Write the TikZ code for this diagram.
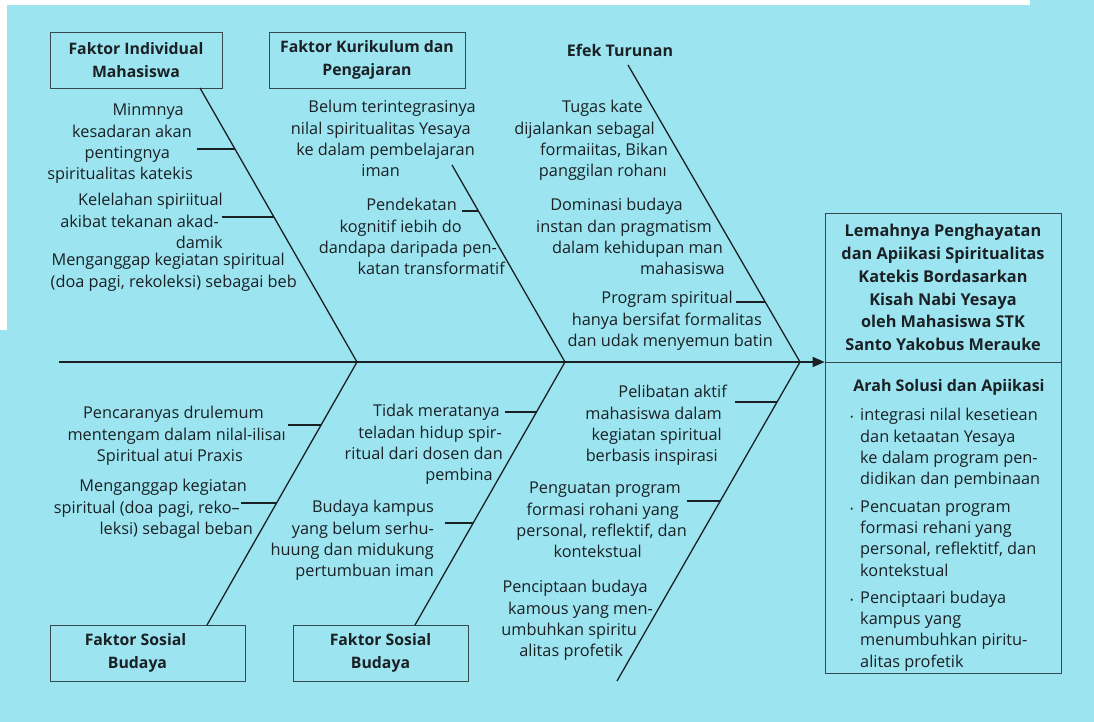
\documentclass[tikz,border=0pt]{standalone}
\usepackage{fontspec}
\setmainfont{Open Sans}
\usetikzlibrary{arrows.meta}
\definecolor{bg}{RGB}{156,229,240}
\definecolor{ink}{RGB}{26,32,36}
\definecolor{boxln}{RGB}{55,72,78}
\begin{document}
\begin{tikzpicture}[x=1pt,y=-1pt,
  body/.style={font=\fontsize{16.3}{21.3}\selectfont, text=ink, inner sep=0pt, align=right, anchor=north east, yshift=-1.8pt},
  lbody/.style={body, align=left, anchor=north west},
  head/.style={font=\fontsize{16}{23}\selectfont\bfseries, text=ink, inner sep=0pt, align=center},
  catbox/.style={draw=boxln, line width=0.8pt, minimum height=56pt, inner sep=0pt, font=\fontsize{15.8}{23}\selectfont\bfseries, text=ink, align=center},
  bone/.style={draw=ink, line width=1.3pt},
  tick/.style={draw=ink, line width=1.1pt},
  spine/.style={draw=ink, line width=1.6pt}]
\useasboundingbox (0,0) rectangle (1094,722);
\fill[bg] (0,0) rectangle (1094,722);
\fill[white] (0,0) rectangle (1030,5);
\fill[white] (0,0) rectangle (7,330);

% category boxes
\node[catbox, minimum width=172pt] (ind) at (136,60) {Faktor Individual\\Mahasiswa};
\node[catbox, minimum width=196pt] (kur) at (367,60) {Faktor Kurikulum dan\\Pengajaran};
\node[head] (efek) at (620,50) {Efek Turunan};
\node[catbox, minimum width=195pt] (sos1) at (147.5,653) {Faktor Sosial\rule{24pt}{0pt}\\Budaya\rule{20pt}{0pt}};
\node[catbox, minimum width=175pt] (sos2) at (380.5,653) {Faktor Sosial\\Budaya};

% effect boxes
\node[draw=boxln, line width=0.8pt, minimum width=236pt, minimum height=149pt, inner sep=0pt,
  font=\fontsize{16.3}{22.8}\selectfont\bfseries, text=ink, align=center] (eff) at (943,287.5)
  {Lemahnya Penghayatan\\dan Apiikasi Spiritualitas\\Katekis Bordasarkan\\Kisah Nabi Yesaya\\oleh Mahasiswa STK\\Santo Yakobus Merauke};
\node[draw=boxln, line width=0.8pt, minimum width=236pt, minimum height=311pt, inner sep=0pt] (sol) at (943,517.5) {};
\node[head] (soltitle) at (949,387) {Arah Solusi dan Apiikasi};
\node[lbody] (sollist) at (850,404) {\strut\makebox[10pt][l]{\fontsize{9}{9}\selectfont •}integrasi nilal kesetiean\\
\hspace*{10pt}dan ketaatan Yesaya\\
\hspace*{10pt}ke dalam program pen-\\
\hspace*{10pt}didikan dan pembinaan\\[6pt]
\makebox[10pt][l]{\fontsize{9}{9}\selectfont •}Pencuatan program\\
\hspace*{10pt}formasi rehani yang\\
\hspace*{10pt}personal, reflektitf, dan\\
\hspace*{10pt}kontekstual\\[6pt]
\makebox[10pt][l]{\fontsize{9}{9}\selectfont •}Penciptaari budaya\\
\hspace*{10pt}kampus yang\\
\hspace*{10pt}menumbuhkan piritu-\\
\hspace*{10pt}alitas profetik};

% spine and junctions
\coordinate (tail) at (59,362);
\coordinate (j1) at (357,362);
\coordinate (j2) at (565,362);
\coordinate (j3) at (800,362);
\draw[spine, -{Triangle[length=12pt,width=10pt]}] (tail) -- (eff.west |- tail);

% bone start/end points
\coordinate (u1) at (200,88);
\coordinate (u2) at (452,165);
\coordinate (u3) at (628,65);
\coordinate (l1) at (207,625);
\coordinate (l2) at (415,625);
\coordinate (l3) at (617,681);
\draw[bone] (u1) -- (j1);
\draw[bone] (u2) -- (j2);
\draw[bone] (u3) -- (j3);
\draw[bone] (j1) -- (l1);
\draw[bone] (j2) -- (l2);
\draw[bone] (j3) -- (l3);

% cause texts
\node[body] (b1) at (193,99) {\strut Minmnya\rule{9pt}{0pt}\\kesadaran akan\rule{1pt}{0pt}\\pentingnya\rule{23pt}{0pt}\\spiritualitas katekis};
\node[body] (b2) at (223,189) {\strut Kelelahan spiriitual\\akibat tekanan akad-\rule{4pt}{0pt}\\damik};
\node[body] (b3) at (297,249) {\strut Menganggap kegiatan spiritual\rule{12pt}{0pt}\\(doa pagi, rekoleksi) sebagai beb};
\node[body] (b4) at (476,96) {\strut Belum terintegrasinya\\nilal spiritualitas Yesaya\rule{5pt}{0pt}\\ke dalam pembelajaran\rule{1pt}{0pt}\\iman\rule{76pt}{0pt}};
\node[body] (b5) at (505,194) {\strut Pendekatan\rule{48pt}{0pt}\\kognitif iebih do\rule{43pt}{0pt}\\dandapa daripada pen-\rule{8pt}{0pt}\\katan transformatif};
\node[body] (b6) at (668,96) {\strut Tugas kate\rule{25pt}{0pt}\\dijalankan sebagal\rule{13pt}{0pt}\\formaiitas, Bikan\\panggilan rohanı\rule{1pt}{0pt}};
\node[body] (b7) at (725,194) {\strut Dominasi budaya\rule{42pt}{0pt}\\instan dan pragmatism\rule{13pt}{0pt}\\dalam kehidupan man\rule{2pt}{0pt}\\mahasiswa};
\node[body] (b8) at (773,287) {\strut Program spiritual\rule{40pt}{0pt}\\hanya bersifat formalitas\rule{11pt}{0pt}\\dan udak menyemun batin};
\node[body] (b9) at (286,402) {\strut Pencaranyas drulemum\rule{22pt}{0pt}\\mentengam dalam nilal-ilisaı\\Spiritual atui Praxis\rule{43pt}{0pt}};
\node[body] (b10) at (253,475) {\strut Menganggap kegiatan\rule{6pt}{0pt}\\spiritual (doa pagi, reko–\rule{13pt}{0pt}\\leksi) sebagal beban};
\node[body] (b11) at (503,400) {\strut Tidak meratanya\rule{3pt}{0pt}\\teladan hidup spir-\rule{1pt}{0pt}\\ritual dari dosen dan\\pembina\rule{10pt}{0pt}};
\node[body] (b12) at (434,496) {\strut Budaya kampus\\yang belum serhu-\\huung dan midukung\\pertumbuan iman};
\node[body] (b13) at (727,381) {\strut Pelibatan aktif\\mahasiswa dalam\rule{5pt}{0pt}\\kegiatan spiritual\rule{5pt}{0pt}\\berbasis inspirasi\rule{9pt}{0pt}};
\node[body] (b14) at (687,477) {\strut Penguatan program\rule{6pt}{0pt}\\formasi rohani yang\rule{8pt}{0pt}\\personal, reflektif, dan\\kontekstual\rule{45pt}{0pt}};
\node[body] (b15) at (653,576) {\strut Penciptaan budaya\rule{5pt}{0pt}\\kamous yang men-\\umbuhkan spiritu\rule{16pt}{0pt}\\alitas profetik\rule{30pt}{0pt}};

% ticks
\coordinate (t1a) at (197,149); \coordinate (t1b) at (235,149);
\coordinate (t2a) at (222,217); \coordinate (t2b) at (274,217);
\coordinate (t5a) at (462,211); \coordinate (t5b) at (478.4,211);
\coordinate (t8a) at (736,302); \coordinate (t8b) at (765.3,302);
\coordinate (t9a) at (288,425); \coordinate (t9b) at (321.1,425);
\coordinate (t10a) at (241,503); \coordinate (t10b) at (276.6,503);
\coordinate (t11a) at (505,412); \coordinate (t11b) at (536.5,412);
\coordinate (t12a) at (445,523); \coordinate (t12b) at (473.2,523);
\coordinate (t13a) at (735,402); \coordinate (t13b) at (777.1,402);
\coordinate (t14a) at (687,501); \coordinate (t14b) at (720.3,501);
\foreach \t in {1,2,5,8,9,10,11,12,13,14} \draw[tick] (t\t a) -- (t\t b);
\end{tikzpicture}
\end{document}
